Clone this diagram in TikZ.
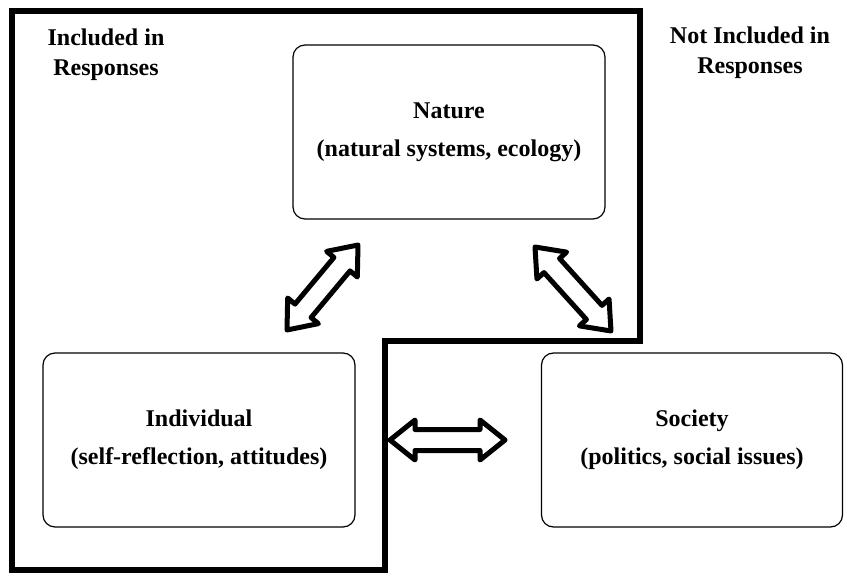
\documentclass[tikz,border=0pt]{standalone}
\usepackage{fontspec}
\setmainfont{Liberation Serif}
\usetikzlibrary{positioning,calc}

\begin{document}
\begin{tikzpicture}[x=1pt,y=1pt,node distance=308pt,
    box/.style={draw,line width=1.2pt,rounded corners=12pt,minimum width=312pt,
      minimum height=174pt,align=center,font=\bfseries\fontsize{24}{38}\selectfont},
    label text/.style={align=center,font=\bfseries\fontsize{24}{30}\selectfont},
    blockarrow/.style={draw,line width=5pt,line join=round}]
\useasboundingbox (0,0) rectangle (847,-575);

% region of responses
\draw[line width=6pt] (12,-11) -- (640,-11) -- (640,-341) -- (385,-341)
  -- (385,-570) -- (12,-570) -- cycle;

\node[label text] (incl) at (106,-55) {Included in\\Responses};
\node[label text] (notincl) at (750,-53) {Not Included in\\Responses};

\node[box] (nature) at (449,-132) {Nature\\(natural systems, ecology)};
\node[box] (indiv) [below of=nature, xshift=-250pt] {Individual\\(self-reflection, attitudes)};
\node[box, minimum width=301pt] (society) [below of=nature, xshift=243pt] {Society\\(politics, social issues)};

\coordinate (indiv tip) at (287,-330);
\coordinate (nature left tip) at (358,-245);
\coordinate (nature right tip) at (535,-247);
\coordinate (society tip) at (611,-331);
\coordinate (mid left tip) at (390,-440);
\coordinate (mid right tip) at (505,-440);

\foreach \from/\to in {indiv tip/nature left tip, nature right tip/society tip,
    mid left tip/mid right tip}
  \path[blockarrow] let \p1=($(\to)-(\from)$), \n1={veclen(\x1,\y1)},
    \n2={atan2(\y1,\x1)} in [shift={(\from)}, rotate=\n2]
    (0,0) -- (25,20) -- (25,10.5) -- (\n1-25,10.5) -- (\n1-25,20) -- (\n1,0)
    -- (\n1-25,-20) -- (\n1-25,-10.5) -- (25,-10.5) -- (25,-20) -- cycle;

\end{tikzpicture}
\end{document}
